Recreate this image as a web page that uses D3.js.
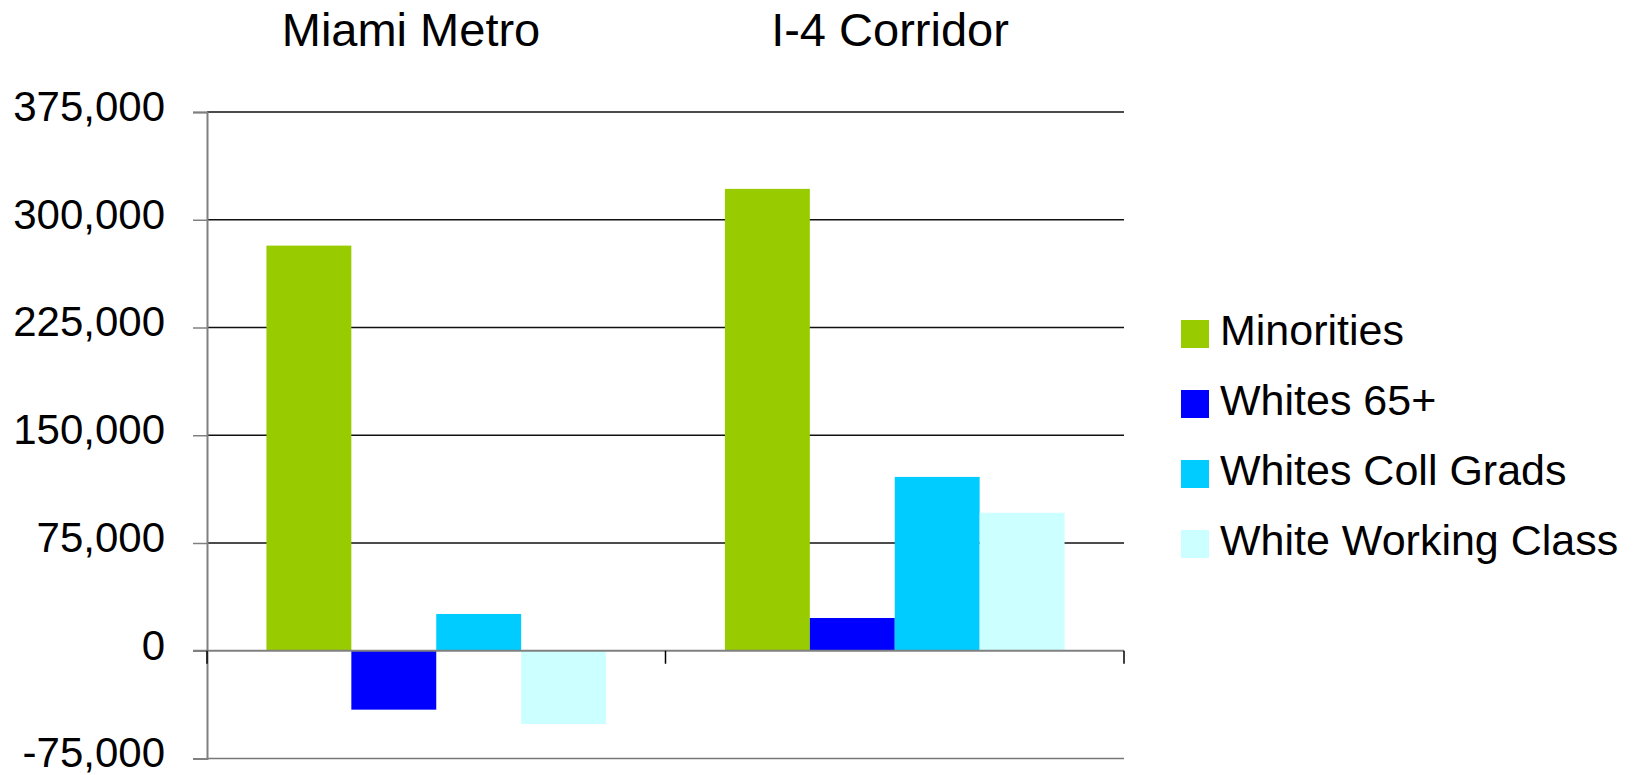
<!DOCTYPE html>
<html>
<head>
<meta charset="utf-8">
<script src="https://cdn.jsdelivr.net/npm/d3@7"></script>
<style>
  html, body { margin: 0; padding: 0; background: #fff; }
  svg { display: block; }
  text { font-family: "Liberation Sans", Arial, sans-serif; fill: #000; }
</style>
</head>
<body>
<svg id="chart" width="1635" height="775"></svg>
<script>
// ---- data ----
const categories = ["Miami Metro", "I-4 Corridor"];
const seriesNames = ["Minorities", "Whites 65+", "Whites Coll Grads", "White Working Class"];
const seriesColors = ["#99CC00", "#0000FF", "#00CCFF", "#CCFFFF"];
const minorities = [282000, 321500];
const whites65 = [-41000, 22800];
const whitesCollGrads = [25600, 121000];
const whiteWorkingClass = [-51000, 96000];
const yTicks = [-75000, 0, 75000, 150000, 225000, 300000, 375000];
const titleLabels = ["Miami Metro", "I-4 Corridor"];

const seriesValues = [minorities, whites65, whitesCollGrads, whiteWorkingClass];

const svg = d3.select("#chart");
const plotLeft = 207, plotRight = 1124, plotTop = 112, plotBottom = 758.5;

const y = d3.scaleLinear().domain([-75000, 375000]).range([plotBottom, plotTop]);
const x0 = d3.scaleBand().domain(categories).range([plotLeft, plotRight]).padding(0);
const x1 = d3.scaleBand().domain(seriesNames).range([0, x0.bandwidth()]).paddingInner(0).paddingOuter(0.7);

// gridlines
svg.append("g").selectAll("line").data(yTicks.filter(t => t !== 0 && t !== -75000))
  .join("line")
  .attr("x1", plotLeft).attr("x2", plotRight)
  .attr("y1", d => y(d)).attr("y2", d => y(d))
  .attr("stroke", "#111").attr("stroke-width", 1.5);
// bottom gridline
svg.append("line")
  .attr("x1", plotLeft).attr("x2", plotRight)
  .attr("y1", y(-75000)).attr("y2", y(-75000))
  .attr("stroke", "#777").attr("stroke-width", 1.5);

// y axis
const fmt = d3.format(",");
const yAxis = d3.axisLeft(y).tickValues(yTicks).tickSize(14).tickPadding(28)
  .tickFormat(d => fmt(d).replace("\u2212", "-"));
const gy = svg.append("g").attr("transform", `translate(${plotLeft},0)`).call(yAxis);
gy.select(".domain").attr("stroke", "#808080").attr("stroke-width", 2);
gy.selectAll(".tick line").attr("stroke", "#808080").attr("stroke-width", 1.5);
gy.selectAll(".tick text")
  .attr("font-size", 42)
  .attr("font-family", "'Liberation Sans', Arial, sans-serif")
  .attr("fill", "#000")
  .attr("dy", "0.2em")
  .attr("x", -42);

// bars
const groups = svg.append("g").selectAll("g").data(categories).join("g")
  .attr("transform", d => `translate(${x0(d)},0)`);
groups.selectAll("rect")
  .data((c, ci) => seriesNames.map((s, si) => ({ s, si, v: seriesValues[si][ci] })))
  .join("rect")
  .attr("x", d => x1(d.s))
  .attr("width", x1.bandwidth())
  .attr("y", d => y(Math.max(0, d.v)))
  .attr("height", d => Math.abs(y(d.v) - y(0)))
  .attr("fill", d => seriesColors[d.si]);

// zero line (category axis)
svg.append("line")
  .attr("x1", plotLeft - 14).attr("x2", plotRight)
  .attr("y1", y(0)).attr("y2", y(0))
  .attr("stroke", "#808080").attr("stroke-width", 2);
// category ticks
const catEdges = categories.map(c => x0(c)).concat([plotRight]);
svg.append("g").selectAll("line").data(catEdges).join("line")
  .attr("x1", d => d).attr("x2", d => d)
  .attr("y1", y(0)).attr("y2", y(0) + 13)
  .attr("stroke", "#000").attr("stroke-width", 1.5);

// titles
const titleX = [411, 890];
svg.append("g").selectAll("text").data(titleLabels).join("text")
  .attr("x", (d, i) => titleX[i])
  .attr("y", 46)
  .attr("text-anchor", "middle")
  .attr("font-size", 47)
  .text(d => d);

// legend
const legend = svg.append("g").attr("transform", "translate(1181,320)");
const li = legend.selectAll("g").data(seriesNames).join("g")
  .attr("transform", (d, i) => `translate(0,${i * 70})`);
li.append("rect").attr("width", 28).attr("height", 28).attr("fill", (d, i) => seriesColors[i]);
li.append("text").attr("x", 39).attr("y", 25).attr("font-size", 43).text(d => d);
</script>
</body>
</html>
